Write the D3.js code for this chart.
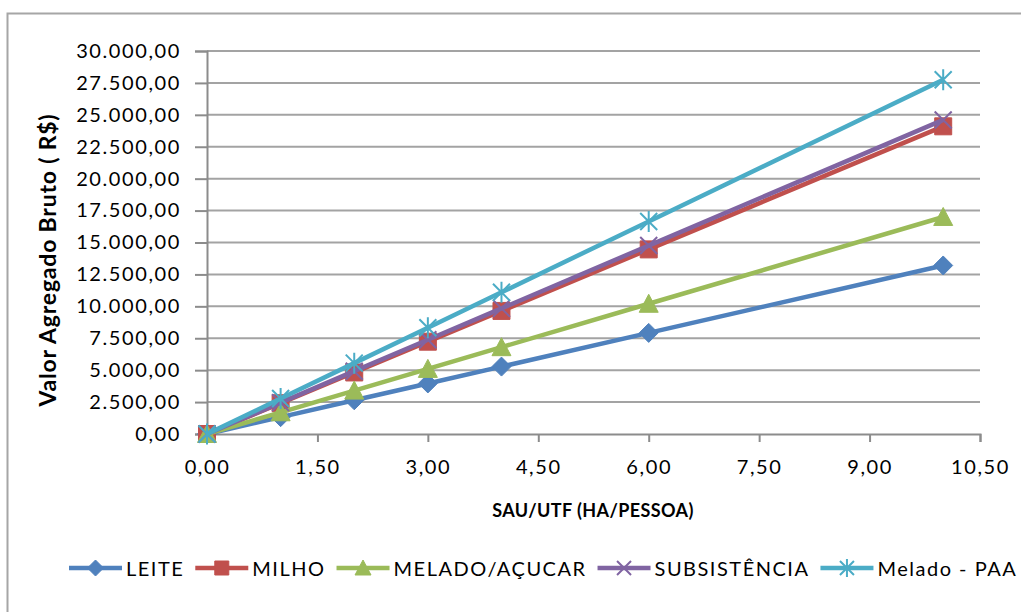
<!DOCTYPE html>
<html>
<head>
<meta charset="utf-8">
<script src="https://cdn.jsdelivr.net/npm/d3@7"></script>
<style>
  html, body { margin: 0; padding: 0; background: #fff; }
  svg { display: block; }
  text { font-family: Lato, "Open Sans", sans-serif; fill: #000; }
</style>
</head>
<body>
<div id="chart"></div>
<script>
// SAU/UTF (ha/pessoa) sampled for each production system
const sauUtf = [0, 1, 2, 3, 4, 6, 10];

// Valor Agregado Bruto (R$) per system
const leite       = [0, 1320, 2640, 3960, 5280, 7920, 13200];
const milho       = [0, 2410, 4820, 7230, 9640, 14460, 24100];
const meladoAcucar= [0, 1700, 3400, 5100, 6800, 10200, 17000];
const subsistencia= [0, 2460, 4920, 7380, 9840, 14760, 24600];
const meladoPaa   = [0, 2775, 5550, 8325, 11100, 16650, 27750];

const seriesNames = ["LEITE", "MILHO", "MELADO/AÇUCAR", "SUBSISTÊNCIA", "Melado - PAA"];
const xTicks = [0, 1.5, 3, 4.5, 6, 7.5, 9, 10.5];
const yTicks = [0, 2500, 5000, 7500, 10000, 12500, 15000, 17500, 20000, 22500, 25000, 27500, 30000];

const series = [
  { name: seriesNames[0], values: leite,        color: "#4F81BD", marker: "diamond" },
  { name: seriesNames[1], values: milho,        color: "#C0504D", marker: "square" },
  { name: seriesNames[2], values: meladoAcucar, color: "#9BBB59", marker: "triangle" },
  { name: seriesNames[3], values: subsistencia, color: "#8064A2", marker: "x" },
  { name: seriesNames[4], values: meladoPaa,    color: "#4BACC6", marker: "asterisk" }
];

const W = 1021, H = 612;
const plot = { left: 207, right: 980, top: 51, bottom: 434 };

const br = d3.formatLocale({ decimal: ",", thousands: ".", grouping: [3], currency: ["R$", ""] });
const fmt = br.format(",.2f");

const x = d3.scaleLinear().domain([0, 10.5]).range([plot.left, plot.right]);
const y = d3.scaleLinear().domain([0, 30000]).range([plot.bottom, plot.top]);

const svg = d3.select("#chart").append("svg").attr("width", W).attr("height", H);

// outer chart frame (continues past the right and bottom edges)
svg.append("rect")
  .attr("x", 7.5).attr("y", 13.5).attr("width", 1040).attr("height", 640)
  .attr("fill", "#fff").attr("stroke", "#a6a6a6").attr("stroke-width", 2);

// horizontal gridlines
svg.append("g").selectAll("line").data(yTicks.filter(d => d > 0)).join("line")
  .attr("x1", plot.left).attr("x2", plot.right)
  .attr("y1", d => y(d)).attr("y2", d => y(d))
  .attr("stroke", "#a3a3a3").attr("stroke-width", 2);

// y axis
const yAxis = svg.append("g").attr("transform", `translate(${plot.left},0)`)
  .call(d3.axisLeft(y).tickValues(yTicks).tickFormat(fmt).tickSize(12).tickPadding(14));
yAxis.select(".domain").attr("stroke", "#8c8c8c").attr("stroke-width", 2);
yAxis.selectAll(".tick line").attr("stroke", "#8c8c8c").attr("stroke-width", 2);
yAxis.selectAll(".tick text")
  .style("font-family", "Lato, sans-serif").style("font-size", "20px")
  .style("letter-spacing", "1.6px").attr("fill", "#000");

// x axis
const xAxis = svg.append("g").attr("transform", `translate(0,${plot.bottom})`)
  .call(d3.axisBottom(x).tickValues(xTicks).tickFormat(fmt).tickSize(8).tickPadding(18));
xAxis.select(".domain").attr("stroke", "#8c8c8c").attr("stroke-width", 2);
xAxis.selectAll(".tick line").attr("stroke", "#8c8c8c").attr("stroke-width", 2);
xAxis.selectAll(".tick text")
  .style("font-family", "Lato, sans-serif").style("font-size", "20px")
  .style("letter-spacing", "1.6px").attr("fill", "#000");

// axis titles
svg.append("text")
  .attr("transform", `translate(56,260) rotate(-90)`)
  .attr("text-anchor", "middle")
  .style("font-size", "23px").style("font-weight", "bold").style("letter-spacing", "0.8px")
  .text("Valor Agregado Bruto ( R$)");

svg.append("text")
  .attr("x", 593).attr("y", 517)
  .attr("text-anchor", "middle")
  .style("font-size", "18px").style("font-weight", "bold").style("letter-spacing", "0.4px")
  .text("SAU/UTF (HA/PESSOA)");

// marker shapes centred on the origin
function markerPath(kind, s) {
  const h = s / 2;
  switch (kind) {
    case "diamond":  return `M0,${-h - 1}L${h + 1},0L0,${h + 1}L${-h - 1},0Z`;
    case "square":   return `M${-h},${-h}H${h}V${h}H${-h}Z`;
    case "triangle": return `M0,${-h - 1}L${h + 1},${h}L${-h - 1},${h}Z`;
    case "x":        return `M${-h},${-h}L${h},${h}M${-h},${h}L${h},${-h}`;
    case "asterisk": return `M${-h},${-h}L${h},${h}M${-h},${h}L${h},${-h}M0,${-h - 2}V${h + 2}`;
  }
}
const filled = k => k === "diamond" || k === "square" || k === "triangle";

const line = d3.line().x((d, i) => x(sauUtf[i])).y(d => y(d));

const gSeries = svg.append("g").selectAll("g").data(series).join("g");

gSeries.append("path")
  .attr("d", d => line(d.values))
  .attr("fill", "none")
  .attr("stroke", d => d.color)
  .attr("stroke-width", 4.5)
  .attr("stroke-linejoin", "round");

gSeries.each(function (s) {
  d3.select(this).selectAll("path.mk").data(s.values).join("path")
    .attr("class", "mk")
    .attr("transform", (d, i) => `translate(${x(sauUtf[i])},${y(d)})`)
    .attr("d", markerPath(s.marker, 17))
    .attr("fill", filled(s.marker) ? s.color : "none")
    .attr("stroke", s.color)
    .attr("stroke-width", filled(s.marker) ? 1 : 2);
});

// legend along the bottom
const legend = svg.append("g").attr("transform", "translate(0,568)");
let lx = 69;
series.forEach(s => {
  const item = legend.append("g").attr("transform", `translate(${lx},0)`);
  item.append("line").attr("x1", 0).attr("x2", 53).attr("y1", 0).attr("y2", 0)
    .attr("stroke", s.color).attr("stroke-width", 4.5);
  item.append("path").attr("transform", "translate(26.5,0)")
    .attr("d", markerPath(s.marker, 14))
    .attr("fill", filled(s.marker) ? s.color : "none")
    .attr("stroke", s.color).attr("stroke-width", filled(s.marker) ? 1 : 2);
  const t = item.append("text").attr("x", 57).attr("y", 7.5)
    .style("font-size", "20px").style("letter-spacing", "1.5px")
    .text(s.name);
  lx += 57 + t.node().getComputedTextLength() + 11;
});
</script>
</body>
</html>
